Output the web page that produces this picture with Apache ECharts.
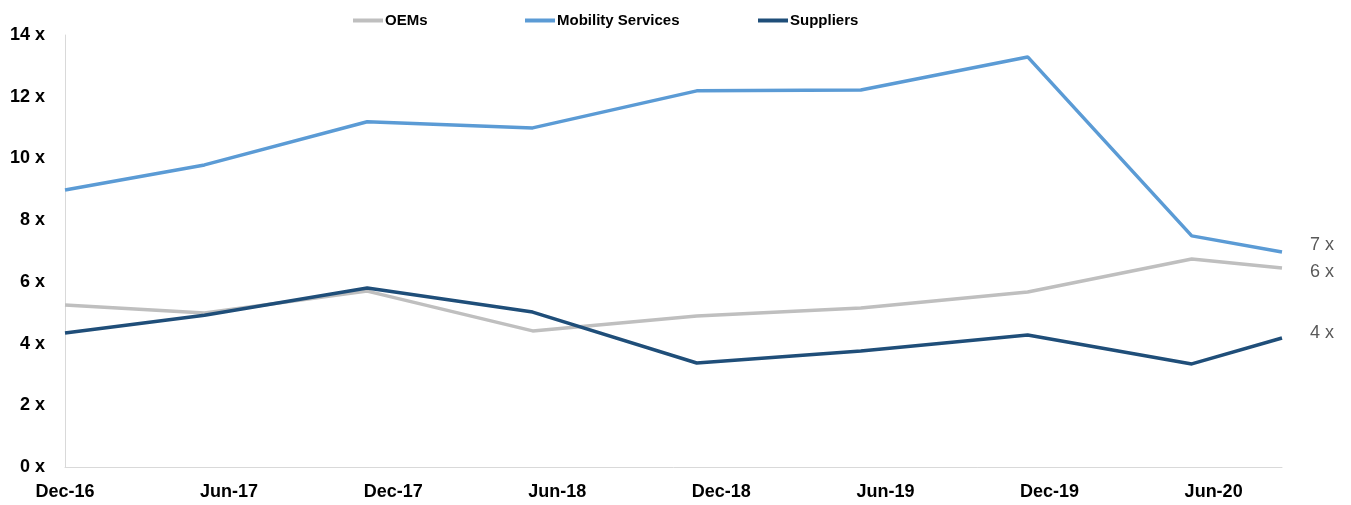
<!DOCTYPE html>
<html>
<head>
<meta charset="utf-8">
<style>
  html, body { margin: 0; padding: 0; background: #fff; }
  #chart { width: 1351px; height: 505px; }
</style>
<script src="https://cdn.jsdelivr.net/npm/echarts@6/dist/echarts.min.js"></script>
</head>
<body>
<div id="chart"></div>
<script>
// Months since Dec-16 for each observation
const monthsX = [0, 5.1, 11.05, 17.1, 23.1, 29.1, 35.2, 41.2, 44.5];
const tickLabels = ['Dec-16', 'Jun-17', 'Dec-17', 'Jun-18', 'Dec-18', 'Jun-19', 'Dec-19', 'Jun-20'];
const oems     = [5.25, 4.99, 5.70, 4.41, 4.89, 5.15, 5.67, 6.74, 6.45];
const mobility = [8.98, 9.79, 11.19, 10.99, 12.19, 12.22, 13.29, 7.49, 6.97];
const suppliers= [4.34, 4.92, 5.80, 5.02, 3.37, 3.76, 4.28, 3.34, 4.18];

const seriesNames = ['OEMs', 'Mobility Services', 'Suppliers'];
const seriesColors = ['#BFBFBF', '#5B9BD5', '#1F4E79'];
const endOffsets = [[0, 4], [0, -7], [0, -5]];
const legendLefts = [348, 520, 753];

function pairs(vals) { return vals.map((v, i) => [monthsX[i], v]); }

const chart = echarts.init(document.getElementById('chart'));
const seriesData = [oems, mobility, suppliers];
chart.setOption({
  animation: false,
  legend: seriesNames.map((name, i) => ({
    left: legendLefts[i], top: 8,
    icon: 'rect', itemWidth: 30, itemHeight: 4,
    textStyle: { fontFamily: '"Liberation Sans Narrow", "Liberation Sans", Arial, sans-serif', fontWeight: 'bold', fontSize: 15, color: '#000', padding: [0, 0, 0, -3] },
    data: [name]
  })),
  grid: { left: 65, right: 69, top: 35, bottom: 38 },
  xAxis: {
    type: 'value', min: 0, max: 44.5, interval: 6,
    axisLine: { show: true, lineStyle: { color: '#D9D9D9', width: 1 } },
    axisTick: { show: false },
    splitLine: { show: false },
    axisLabel: {
      margin: 16,
      showMaxLabel: false,
      fontFamily: '"Liberation Sans", Arial, sans-serif', fontWeight: 'bold', fontSize: 18, color: '#000',
      formatter: v => (Math.abs(v % 6) < 1e-6 ? (tickLabels[Math.round(v / 6)] || '') : '')
    }
  },
  yAxis: {
    type: 'value', min: 0, max: 14, interval: 2,
    axisLine: { show: true, lineStyle: { color: '#D9D9D9', width: 1 } },
    axisTick: { show: false },
    splitLine: { show: false },
    axisLabel: {
      margin: 20,
      fontFamily: '"Liberation Sans", Arial, sans-serif', fontWeight: 'bold', fontSize: 18, color: '#000',
      formatter: '{value} x'
    }
  },
  series: seriesNames.map((name, i) => ({
    name: name,
    type: 'line',
    data: pairs(seriesData[i]),
    showSymbol: false,
    symbol: 'none',
    color: seriesColors[i],
    lineStyle: { color: seriesColors[i], width: 3.5 },
    z: i === 2 ? 3 : 2,
    endLabel: {
      show: true,
      distance: 28,
      offset: endOffsets[i],
      fontFamily: '"Liberation Sans", Arial, sans-serif', fontSize: 18, color: '#595959',
      formatter: p => Math.round(p.value[1]) + ' x'
    }
  }))
});
</script>
</body>
</html>
